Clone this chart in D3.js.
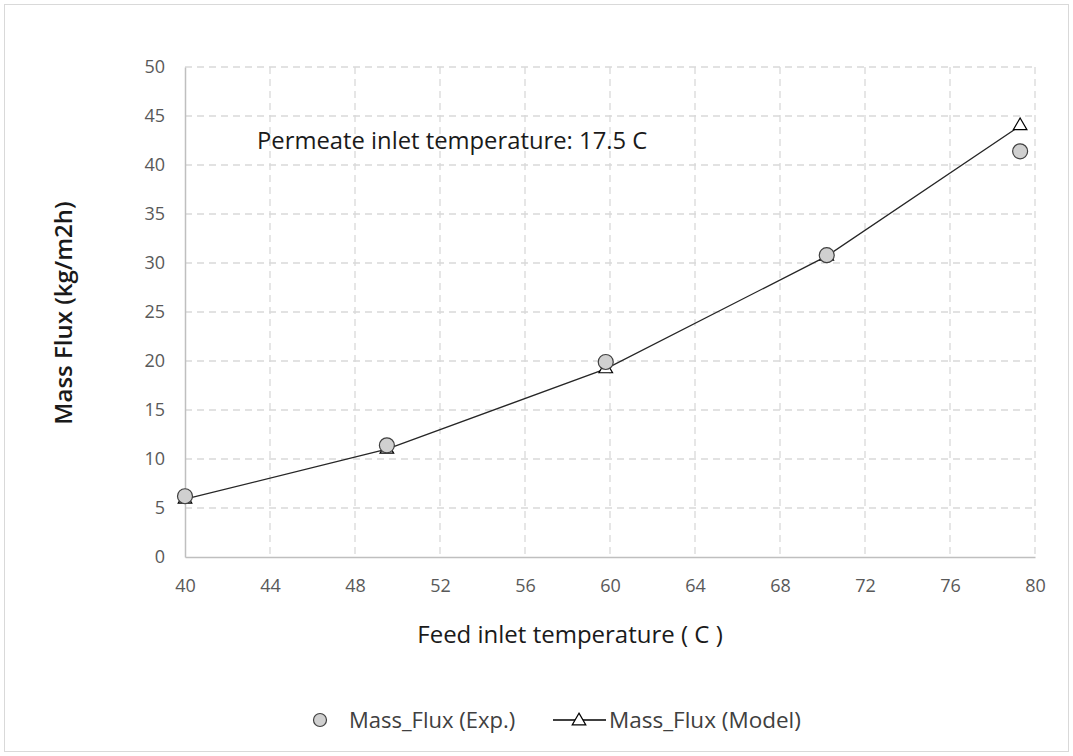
<!DOCTYPE html>
<html>
<head>
<meta charset="utf-8">
<script src="https://cdn.jsdelivr.net/npm/d3@7"></script>
<style>
    body { margin: 0; background: #fff; }
    text { font-family: "Open Sans", "Noto Sans", sans-serif; }
</style>
</head>
<body>
<div id="vis"></div>
<script>
// data
var feedTemp = [40, 49.5, 59.8, 70.2, 79.3];
var fluxExp = [6.2, 11.4, 19.9, 30.8, 41.4];
var fluxModel = [5.9, 11.0, 19.2, 30.7, 44.0];
var xTicks = [40, 44, 48, 52, 56, 60, 64, 68, 72, 76, 80];
var yTicks = [0, 5, 10, 15, 20, 25, 30, 35, 40, 45, 50];

var width = 1073, height = 756;
var margin = { left: 185, top: 67, right: 38, bottom: 199 };
var plotW = width - margin.left - margin.right;
var plotH = height - margin.top - margin.bottom;

var svg = d3.select("#vis")
    .append("svg")
        .attr("width", width)
        .attr("height", height);

// outer frame
svg.append("rect")
    .attr("x", 4.5).attr("y", 4.5)
    .attr("width", width - 9).attr("height", height - 9)
    .attr("fill", "#fff")
    .attr("stroke", "#d9d9d9");

var g = svg.append("g")
    .attr("transform", "translate(" + margin.left + "," + margin.top + ")");

var x = d3.scaleLinear().domain([40, 80]).range([0, plotW]);
var y = d3.scaleLinear().domain([0, 50]).range([plotH, 0]);

// grid
g.selectAll(".vgrid")
    .data(xTicks.slice(1))
    .enter().append("line")
    .attr("class", "vgrid")
    .attr("x1", function(d) { return x(d); })
    .attr("x2", function(d) { return x(d); })
    .attr("y1", 0).attr("y2", plotH)
    .attr("stroke", "#d9d9d9")
    .attr("stroke-width", 1.3)
    .attr("stroke-dasharray", "7,5");

g.selectAll(".hgrid")
    .data(yTicks.slice(1))
    .enter().append("line")
    .attr("class", "hgrid")
    .attr("x1", 0).attr("x2", plotW)
    .attr("y1", function(d) { return y(d); })
    .attr("y2", function(d) { return y(d); })
    .attr("stroke", "#d9d9d9")
    .attr("stroke-width", 1.3)
    .attr("stroke-dasharray", "7,5");

// axes
var xAxis = g.append("g")
    .attr("transform", "translate(0," + plotH + ")")
    .call(d3.axisBottom(x).tickValues(xTicks).tickSize(0).tickPadding(22));
var yAxis = g.append("g")
    .call(d3.axisLeft(y).tickValues(yTicks).tickSize(0).tickPadding(20));

[xAxis, yAxis].forEach(function(a) {
    a.select(".domain").attr("stroke", "#bfbfbf").attr("stroke-width", 1.5);
    a.selectAll("text")
        .attr("fill", "#595959")
        .style("font-size", "18px");
});

// axis titles
svg.append("text")
    .attr("x", 570)
    .attr("y", 643)
    .attr("text-anchor", "middle")
    .style("font-size", "24px")
    .attr("fill", "#1a1a1a")
    .text("Feed inlet temperature ( C )");

svg.append("text")
    .attr("transform", "translate(72,313) rotate(-90)")
    .attr("text-anchor", "middle")
    .style("font-size", "24px")
    .style("font-weight", "600")
    .attr("fill", "#1a1a1a")
    .text("Mass Flux (kg/m2h)");

// annotation
svg.append("text")
    .attr("x", 257)
    .attr("y", 149)
    .style("font-size", "23.8px")
    .attr("fill", "#1a1a1a")
    .text("Permeate inlet temperature: 17.5 C");

var modelData = feedTemp.map(function(t, i) { return { x: t, y: fluxModel[i] }; });
var expData = feedTemp.map(function(t, i) { return { x: t, y: fluxExp[i] }; });

var line = d3.line()
    .x(function(d) { return x(d.x); })
    .y(function(d) { return y(d.y); });

g.append("path")
    .datum(modelData)
    .attr("d", line)
    .attr("fill", "none")
    .attr("stroke", "#262626")
    .attr("stroke-width", 1.3);

var tri = d3.symbol().type(d3.symbolTriangle).size(80);

g.selectAll(".model")
    .data(modelData)
    .enter().append("path")
    .attr("class", "model")
    .attr("d", tri)
    .attr("transform", function(d) { return "translate(" + x(d.x) + "," + y(d.y) + ")"; })
    .attr("fill", "#fff")
    .attr("stroke", "#000")
    .attr("stroke-width", 1.2);

g.selectAll(".exp")
    .data(expData)
    .enter().append("circle")
    .attr("class", "exp")
    .attr("cx", function(d) { return x(d.x); })
    .attr("cy", function(d) { return y(d.y); })
    .attr("r", 7.5)
    .attr("fill", "#d0d0d0")
    .attr("stroke", "#404040")
    .attr("stroke-width", 1.2);

// legend
var leg = svg.append("g").attr("transform", "translate(0,720)");
leg.append("circle")
    .attr("cx", 320).attr("cy", 0).attr("r", 6.5)
    .attr("fill", "#d0d0d0").attr("stroke", "#404040").attr("stroke-width", 1.2);
leg.append("text")
    .attr("x", 349).attr("y", 7.5)
    .style("font-size", "22px").attr("fill", "#404040")
    .text("Mass_Flux (Exp.)");
leg.append("line")
    .attr("x1", 553).attr("x2", 606).attr("y1", 0).attr("y2", 0)
    .attr("stroke", "#000").attr("stroke-width", 1.3);
leg.append("path")
    .attr("d", tri)
    .attr("transform", "translate(579,1)")
    .attr("fill", "#fff").attr("stroke", "#000").attr("stroke-width", 1.2);
leg.append("text")
    .attr("x", 609).attr("y", 7.5)
    .style("font-size", "22.5px").attr("fill", "#404040")
    .text("Mass_Flux (Model)");
</script>
</body>
</html>
